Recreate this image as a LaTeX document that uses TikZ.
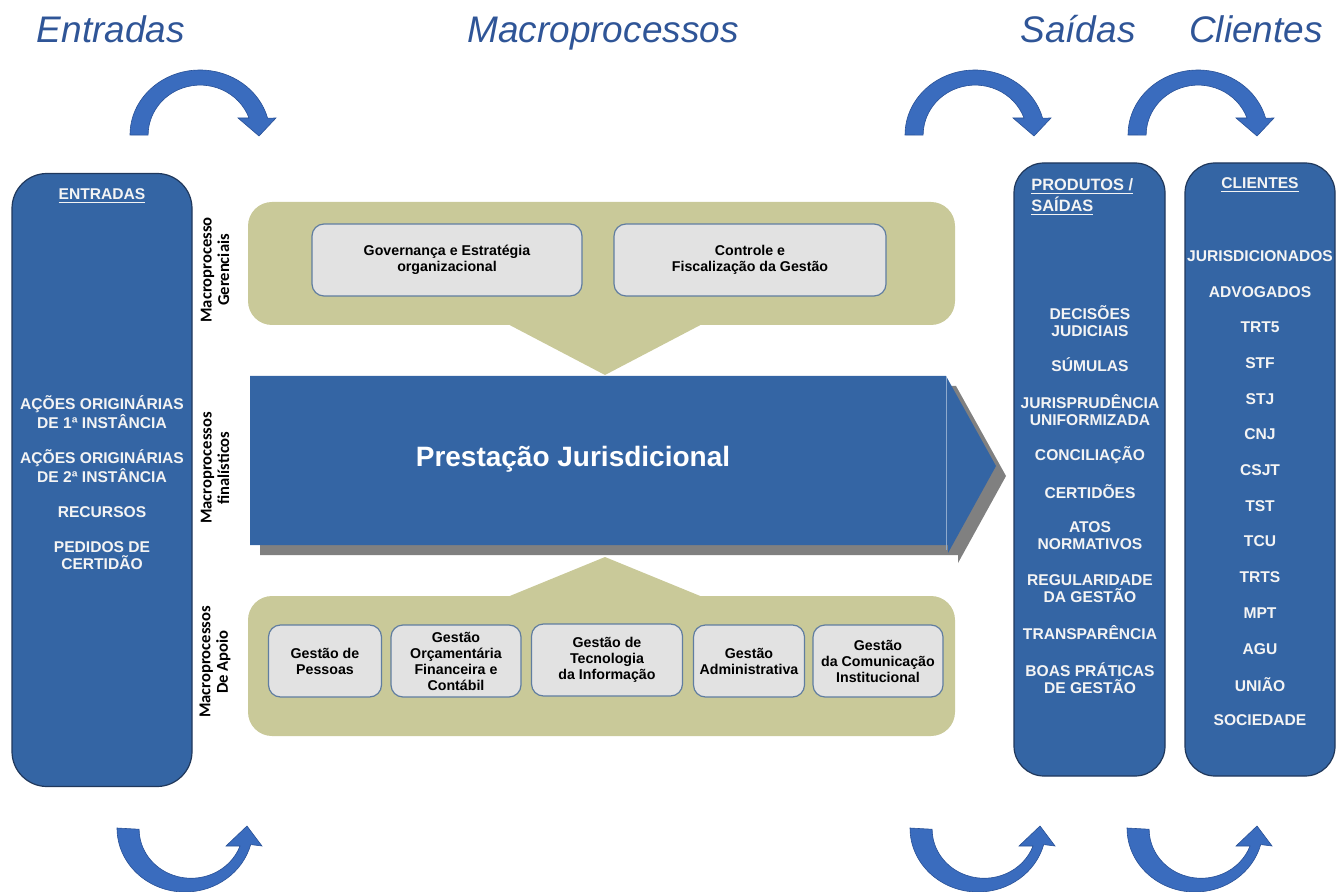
\documentclass[tikz,border=0pt]{standalone}
\usepackage{fontspec}
\setmainfont{Liberation Sans}
\newfontfamily\labelfont{Carlito}

\definecolor{colblue}{RGB}{52,101,164}
\definecolor{coledge}{RGB}{32,56,92}
\definecolor{coltext}{RGB}{244,244,244}
\definecolor{arrowblue}{RGB}{58,108,190}
\definecolor{arrowedge}{RGB}{40,80,150}
\definecolor{titleblue}{RGB}{47,85,151}
\definecolor{khaki}{RGB}{201,201,153}
\definecolor{boxgray}{RGB}{226,226,226}
\definecolor{boxedge}{RGB}{96,125,160}
\definecolor{shadowgray}{RGB}{128,128,128}

\def\toparrow{(130,135) arc[start angle=180,end angle=345,x radius=70,y radius=65] -- (276,118) -- (259,136) -- (238,118) -- (249,118) arc[start angle=340,end angle=180,x radius=52,y radius=50] -- cycle}
\def\botarrow{(117,828) arc[start angle=180,end angle=15,x radius=68,y radius=64] -- (262,846) -- (247,826) -- (226,846) -- (240,846) arc[start angle=20,end angle=180,x radius=52,y radius=49] -- cycle}

\tikzset{
  colbox/.style={draw=coledge, line width=0.6pt, fill=colblue, rounded corners=15pt, minimum height=306.5pt},
  greenpanel/.style={fill=khaki, rounded corners=12pt, minimum width=353.5pt},
  procbox/.style={draw=boxedge, line width=0.6pt, fill=boxgray, rounded corners=6pt, align=center, inner sep=1pt, minimum height=36pt, font=\fontsize{7.1}{8}\selectfont\bfseries},
  coltxt/.style={text=coltext, align=center, inner sep=0pt, font=\fontsize{7.8}{8.6}\selectfont\bfseries},
  sidelabel/.style={rotate=90, align=center, inner sep=0pt, font=\labelfont\fontsize{8.3}{8.8}\selectfont\bfseries},
  headline/.style={text=titleblue, anchor=base, font=\fontsize{18.5}{22}\selectfont\itshape},
  bluearrow/.style={fill=arrowblue, draw=arrowedge, line width=0.3pt}
}

\begin{document}
\begin{tikzpicture}[x=0.5pt,y=-0.5pt]
\useasboundingbox (0,0) rectangle (1336,892);

% titles
\node[headline] (tEntradas) at (111,43) {Entradas};
\node[headline] (tMacro) at (603,43) {Macroprocessos};
\node[headline] (tSaidas) at (1078,43) {Saídas};
\node[headline] (tClientes) at (1256,43) {Clientes};

% curved arrows
\fill[bluearrow] \toparrow;
\fill[bluearrow, shift={(775,0)}] \toparrow;
\fill[bluearrow, shift={(998,0)}] \toparrow;
\fill[bluearrow] \botarrow;
\fill[bluearrow, shift={(793,0)}] \botarrow;
\fill[bluearrow, shift={(1010,0)}] \botarrow;

% side columns
\node[colbox, minimum width=90pt, rounded corners=17.5pt] (entradas) at (102,480) {};
\node[colbox, minimum width=75.5pt] (saidas) at (1089.5,469.5) {};
\node[colbox, minimum width=75pt] (clientes) at (1260,469.5) {};

\node[coltxt] (hEntradas) at (102,196) {\underline{ENTRADAS}};
\foreach \y/\txt [count=\i] in {412/{AÇÕES ORIGINÁRIAS\\DE 1ª INSTÂNCIA}, 466/{AÇÕES ORIGINÁRIAS\\DE 2ª INSTÂNCIA}, 512/{RECURSOS}, 556/{PEDIDOS DE\\CERTIDÃO}}
  \node[coltxt] (ent\i) at (102,\y) {\txt};

\node[coltxt, anchor=west, align=left, font=\fontsize{8.2}{8.8}\selectfont\bfseries] (hSaidas) at (1031,197) {\underline{PRODUTOS /}\\\underline{SAÍDAS}};
\foreach \y/\txt [count=\i] in {321/{DECISÕES\\JUDICIAIS}, 365/{SÚMULAS}, 410/{JURISPRUDÊNCIA\\UNIFORMIZADA}, 455/{CONCILIAÇÃO}, 492/{CERTIDÕES}, 536/{ATOS\\NORMATIVOS}, 589/{REGULARIDADE\\DA GESTÃO}, 633/{TRANSPARÊNCIA}, 678/{BOAS PRÁTICAS\\DE GESTÃO}}
  \node[coltxt] (sai\i) at (1090,\y) {\txt};

\node[coltxt] (hClientes) at (1260,185) {\underline{CLIENTES}};
\foreach \txt [count=\i] in {JURISDICIONADOS, ADVOGADOS, TRT5, STF, STJ, CNJ, CSJT, TST, TCU, TRTS, MPT, AGU, UNIÃO, SOCIEDADE}
  \node[coltxt] (cli\i) at (1260,{256+35.7*(\i-1)}) {\txt};

% macroprocessos gerenciais
\fill[khaki] (500,320) -- (710,320) -- (605,375) -- cycle;
\node[greenpanel, minimum height=61.5pt] (gerenciais) at (601.5,263.5) {};
\node[procbox, minimum width=135pt] (governanca) at (447,260) {Governança e Estratégia\\organizacional};
\node[procbox, minimum width=136pt] (controle) at (750,260) {Controle e\\Fiscalização da Gestão};

% macroprocessos de apoio
\fill[khaki] (500,600) -- (710,600) -- (605,557) -- cycle;
\node[greenpanel, minimum height=70pt] (apoio) at (601.5,666) {};
\node[procbox, minimum width=56.5pt] (pessoas) at (325,661) {Gestão de\\Pessoas};
\node[procbox, minimum width=65pt] (orcamento) at (456,661) {Gestão\\Orçamentária\\Financeira e\\Contábil};
\node[procbox, minimum width=75.5pt] (tecnologia) at (607,660) {Gestão de\\Tecnologia\\da Informação};
\node[procbox, minimum width=55.5pt] (administrativa) at (749,661) {Gestão\\Administrativa};
\node[procbox, minimum width=65pt] (comunicacao) at (878,661) {Gestão\\da Comunicação\\Institucional};

% macroprocessos finalisticos
\fill[shadowgray] (260,386) -- (956,386) -- (1006,476) -- (958,563) -- (958,555) -- (260,555) -- cycle;
\fill[colblue] (250,376) -- (946,376) -- (996,466) -- (948,553) -- (948,545) -- (250,545) -- cycle;
\draw[colblue!55!white, line width=0.5pt] (946,377) -- (946,550);
\node[text=white, font=\fontsize{14}{16}\selectfont\bfseries] (prestacao) at (573,459) {Prestação Jurisdicional};

% side labels
\node[sidelabel] (lGerenciais) at (215,270) {Macroprocesso\\Gerenciais};
\node[sidelabel] (lFinal) at (215,468) {Macroprocessos\\finalísticos};
\node[sidelabel] (lApoio) at (215,662) {Macroprocessos\\De Apoio};
\end{tikzpicture}
\end{document}
